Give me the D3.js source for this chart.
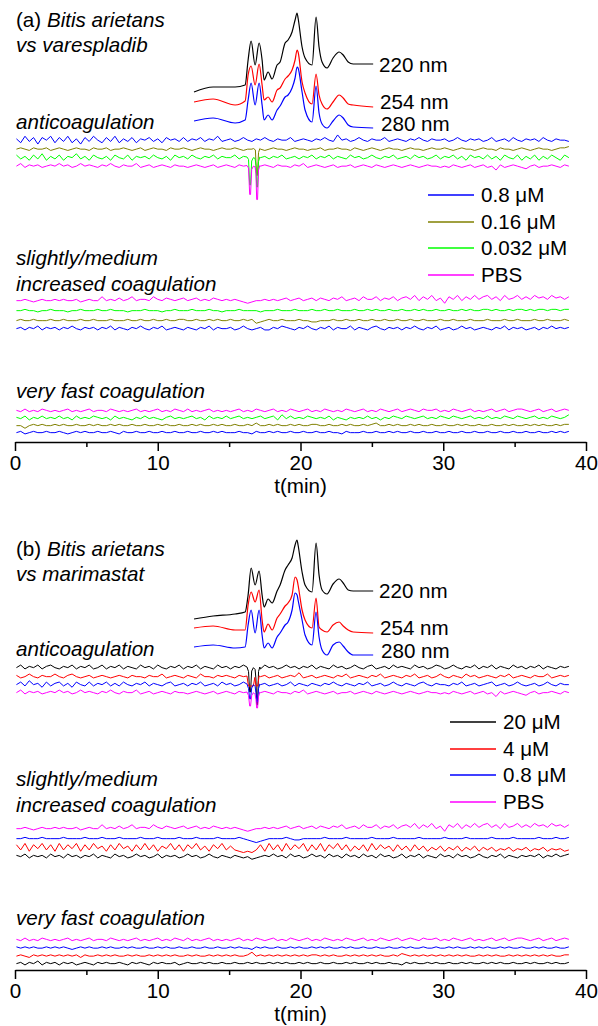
<!DOCTYPE html>
<html>
<head>
<meta charset="utf-8">
<script src="https://cdn.jsdelivr.net/npm/d3@7"></script>
<style>
  body { margin: 0; background: #fff; }
  text { font-family: "Liberation Sans", Arial, sans-serif; font-size: 20.6px; fill: #000; }
</style>
</head>
<body>
<svg id="chart" width="598" height="1026"></svg>
<script>
// ---- chromatogram (UV) traces, time in min, absorbance in arbitrary units
const chromT = [12.54, 13.88, 15.42, 16.12, 16.33, 16.54, 16.82, 17.10, 17.31, 17.45, 17.73, 18.01, 18.36, 18.57, 18.92, 19.13, 19.41,
  19.62, 19.76, 19.83, 20.11, 20.32, 20.81, 21.09, 21.30, 21.51, 21.86, 22.28, 22.71, 22.99, 23.34, 23.69, 25.09];
const absA220 = [43, 48, 48, 50, 75, 94, 70, 92, 75, 55, 63, 56, 70, 73, 92, 95, 103, 115, 122, 117, 88, 77, 70, 118, 88, 73, 67, 77, 83, 80, 73, 71, 71];
const absA254 = [33, 36, 30, 34, 60, 69, 50, 71, 50, 35, 38, 33, 45, 47, 56, 59, 65, 75, 85, 83, 53, 42, 31, 61, 40, 31, 26, 33, 40, 37, 31, 30, 28];
const absA280 = [14, 17, 12, 15, 35, 52, 30, 52, 30, 15, 20, 15, 25, 29, 38, 40, 47, 57, 68, 67, 43, 25, 13, 49, 22, 11, 7, 14, 20, 17, 10, 8, 7];
const absB220 = [41, 44, 46, 48, 65, 92, 75, 89, 65, 53, 61, 57, 69, 75, 90, 95, 102, 115, 120, 115, 88, 75, 68, 117, 85, 70, 66, 76, 81, 77, 70, 69, 69];
const absB254 = [32, 34, 30, 30, 55, 68, 58, 70, 40, 28, 36, 30, 42, 46, 54, 57, 65, 83, 80, 75, 50, 40, 32, 62, 33, 30, 28, 35, 38, 34, 30, 28, 27];
const absB280 = [13, 15, 12, 13, 35, 50, 27, 50, 25, 12, 17, 12, 23, 27, 35, 38, 50, 67, 65, 60, 40, 25, 15, 48, 23, 10, 5, 15, 18, 14, 8, 5, 5];
const wavelengths = ["220 nm", "254 nm", "280 nm"];

// ---- bioassay traces: sampled every 0.3 min from 0.1 min
const tStart = 0.1, tStep = 0.3;

// PBS (same in both panels)
const pbsAnti = [4,6,3,5,4,5,3,4,5,4, 6,4,5,3,4,6,4,5,4,3, 5,4,6,4,3,5,4,4,6,3, 4,5,3,4,5,4,3,5,4,4, 3,4,5,4,3,4,5,3,4,5,
  4,3,5,4,4,6,3,4,5,4, 3,5,4,4,3,5,4,6,3,4, 5,4,3,4,5,3,4,4,5,3, 4,5,4,3,5,4,3,4,5,4, 3,4,5,4,3,4,5,4,4,3,
  4,3,5,4,3,4,5,3,4,5, 3,4,1,5,3,4,5,4,3,2, 4,5,3,4,4,5,4,3,5,4];
const pbsSlight = [4,4,5,4,3,4,5,4,4,5, 4,5,4,4,5,3,4,5,4,4, 7,4,5,4,6,4,5,7,4,5, 5,4,7,5,4,6,5,4,5,6, 4,5,6,4,5,4,6,5,4,5,
  4,5,4,3,2,3,4,4,5,4, 5,4,5,6,4,5,6,4,5,6, 4,6,5,4,6,5,7,4,5,6, 4,7,5,5,7,4,6,5,7,4, 6,7,5,8,4,7,5,8,4,6,
  2,7,5,8,4,7,5,8,5,7, 8,5,7,4,8,5,6,8,5,7, 5,8,6,7,5,8,6,7,5,7];
const pbsFast = [5,4,6,4,5,4,6,5,4,5, 4,5,6,4,5,4,5,6,4,5, 5,4,6,5,4,5,4,5,6,4, 5,4,5,6,4,5,4,6,5,4, 6,4,5,4,5,6,4,5,4,5,
  4,5,6,4,5,4,6,5,4,5, 6,4,5,4,6,5,4,5,6,4, 5,4,6,5,4,5,4,6,5,4, 5,6,4,5,4,6,5,4,5,6, 4,5,6,5,4,6,5,5,6,4,
  5,4,6,5,4,5,6,4,5,4, 5,6,4,5,6,4,5,6,6,5, 4,5,6,4,5,6,4,5,6,5];

// (a) varespladib
const aAnti08 = [5,2,7,3,6,1,6,4,7,2, 6,3,7,2,5,1,6,3,7,4, 2,6,3,7,2,5,3,6,2,5, 4,6,3,5,2,6,4,5,3,6, 3,5,4,6,3,5,4,7,3,4,
  5,3,4,6,4,3,5,4,6,4, 3,5,4,4,6,3,4,5,4,3, 5,4,6,4,3,8,4,5,3,4, 6,4,3,5,4,4,6,3,4,5, 4,3,5,4,6,4,3,5,4,4,
  5,3,4,6,4,3,5,4,5,3, 4,6,3,4,5,3,6,4,3,5, 4,5,3,6,4,3,5,4,4,3];
const aAnti016 = [4,5,4,3,5,4,4,5,3,4, 5,4,3,4,5,4,4,3,5,4, 4,5,3,4,4,5,4,3,4,5, 3,4,5,4,4,3,5,4,4,5, 4,3,4,5,4,4,3,4,5,4,
  4,5,4,3,4,4,5,4,3,4, 5,4,4,3,4,5,4,4,3,4, 4,5,3,4,4,5,4,4,3,5, 4,3,4,5,4,3,4,5,4,4, 3,4,5,4,4,3,4,5,4,4,
  5,4,3,4,5,4,4,3,4,5, 4,4,3,5,4,4,3,4,5,4, 3,4,5,4,4,3,4,5,5,6];
const aAnti0032 = [6,3,5,2,6,3,7,2,5,3, 6,2,5,4,7,3,5,2,6,4, 3,5,2,6,4,3,6,2,5,4, 5,3,6,4,3,5,2,6,4,5, 3,6,4,3,5,4,6,3,5,4,
  4,6,3,5,4,3,6,4,5,3, 5,4,6,3,4,5,3,5,4,6, 3,5,4,6,3,5,4,3,6,4, 5,3,4,6,4,3,5,4,6,3, 4,5,3,6,4,5,3,4,6,3,
  5,4,6,3,5,2,6,4,5,3, 6,3,5,2,6,4,3,6,2,5, 3,6,2,5,3,6,4,2,6,4];
const aSlight08 = [4,5,3,5,4,6,3,5,4,5, 3,5,4,6,4,3,5,4,5,3, 5,4,6,3,5,4,3,5,4,6, 4,3,5,4,6,3,4,5,4,3, 5,4,3,5,4,6,3,5,4,4,
  5,3,4,6,4,3,4,5,3,3, 5,4,6,5,4,3,5,4,6,4, 3,5,4,6,3,5,4,4,6,3, 5,4,3,5,6,4,3,5,4,5, 3,5,4,6,4,3,5,4,6,3,
  4,5,3,4,6,4,5,3,4,5, 4,3,5,4,6,3,5,4,5,3, 4,5,3,5,4,6,4,5,4,5];
const aSlight016 = [4,5,4,4,5,4,4,4,5,4, 4,5,4,4,4,5,4,4,5,4, 4,4,5,4,4,4,5,4,4,5, 4,4,5,4,4,5,4,4,5,5, 4,4,5,4,4,5,4,5,4,4,
  5,4,4,5,4,5,2,3,4,5, 4,4,5,4,4,4,5,4,4,3, 3,4,4,4,5,4,4,5,4,4, 5,4,4,5,4,4,5,4,4,5, 4,4,5,4,4,5,4,4,4,5,
  4,4,5,4,4,4,5,4,4,4, 5,4,4,4,5,4,4,5,4,4, 4,5,4,4,5,4,4,4,5,4];
const aSlight0032 = [4,4,5,4,4,3,4,4,5,4, 4,4,3,4,4,5,4,4,4,5, 4,4,5,4,4,4,3,4,4,4, 5,4,4,4,3,4,4,5,4,4, 4,5,4,4,4,5,4,4,3,4,
  4,4,5,4,4,4,4,3,4,4, 4,5,4,4,4,5,4,4,4,5, 4,4,5,4,4,5,4,4,4,5, 4,4,5,4,5,4,4,5,4,4, 5,4,4,5,4,5,4,4,5,4,
  4,5,4,4,5,4,5,4,4,5, 5,4,5,4,4,5,4,5,5,4, 5,4,5,5,4,5,5,4,5,5];
const aFast08 = [4,5,3,4,5,4,4,5,4,4, 5,4,3,4,5,4,5,4,4,5, 4,4,5,4,3,5,4,4,5,4, 4,5,4,4,5,4,4,5,4,4, 5,4,4,5,4,4,5,4,5,4,
  4,4,5,4,4,3,5,4,4,5, 4,5,4,4,5,4,4,5,4,4, 5,4,4,5,4,4,3,5,4,4, 4,5,4,4,5,4,4,5,4,5, 4,4,5,4,4,5,4,4,5,4,
  4,5,4,4,5,4,4,5,4,4, 5,4,4,5,4,4,5,4,4,5, 4,4,5,4,4,5,4,5,4,5];
const aFast016 = [4,4,2,4,5,4,5,4,4,5, 4,5,4,4,5,4,4,5,4,5, 4,4,5,4,5,4,4,5,4,4, 5,4,4,5,4,5,4,4,5,4, 4,5,4,5,4,4,5,4,5,4,
  4,5,4,4,5,4,6,4,4,5, 4,5,4,4,5,4,5,4,4,5, 5,4,4,5,4,4,5,4,5,4, 4,5,4,5,6,4,4,5,4,5, 4,4,5,4,5,4,4,5,4,4,
  5,4,4,5,4,5,4,4,5,4, 4,5,4,4,5,4,5,4,4,5, 4,5,4,5,4,4,5,4,5,5];
const aFast0032 = [5,4,6,3,5,4,6,4,5,4, 6,4,5,3,6,4,5,4,6,5, 4,5,3,6,4,5,4,3,5,4, 6,4,5,4,3,5,6,4,5,4, 5,6,4,5,3,6,4,5,4,6,
  4,5,6,4,5,4,5,6,4,5, 6,3,7,4,6,4,5,4,6,5, 4,5,4,6,3,5,4,3,5,4, 5,4,6,4,5,3,5,4,6,5, 4,6,5,4,5,6,4,5,4,6,
  5,4,6,5,4,5,6,4,5,4, 6,4,5,4,6,5,4,6,5,4, 5,6,4,5,4,6,5,4,5,7];

// (b) marimastat
const bAnti20 = [4,6,3,5,4,6,3,5,6,4, 3,5,4,6,3,5,4,6,3,4, 6,3,5,4,6,3,5,4,3,6, 4,5,3,6,4,3,5,4,6,3, 5,4,6,3,5,4,3,6,4,5,
  3,5,4,6,3,4,5,3,6,4, 5,3,4,6,4,5,3,5,4,6, 3,5,4,3,6,4,5,3,4,6, 4,3,5,6,3,4,5,3,6,4, 5,4,3,6,4,5,3,4,6,5,
  3,4,6,4,3,5,4,6,3,5, 4,6,3,5,4,3,6,4,5,3, 5,4,6,3,5,4,3,5,4,5];
const bAnti4 = [5,3,4,6,4,3,5,4,4,6, 4,3,5,6,4,3,4,5,3,4, 5,4,3,4,5,4,3,5,4,4, 3,5,4,4,6,3,4,5,4,3, 5,4,3,6,4,4,3,5,4,5,
  4,3,5,4,6,3,4,4,5,3, 4,5,3,4,5,4,7,3,4,5, 3,4,5,4,3,5,4,6,3,4, 5,4,3,5,4,6,3,4,5,4, 3,5,4,6,3,4,5,3,4,6,
  4,3,5,4,3,6,4,5,3,4, 5,4,3,5,4,6,3,4,5,4, 3,5,4,4,6,3,4,5,4,5];
const bAnti08 = [4,6,3,7,4,5,2,6,3,5, 6,3,5,2,6,4,3,6,3,5, 4,6,3,5,3,6,4,3,5,4, 6,3,5,4,3,5,6,3,4,5, 3,5,4,6,3,4,5,3,6,4,
  5,3,4,6,4,3,5,4,5,3, 4,5,3,4,6,3,5,4,3,5, 4,3,5,4,6,4,3,5,4,3, 5,4,6,3,4,5,3,4,6,4, 3,5,4,3,5,6,4,3,5,4,
  4,3,5,4,6,3,4,5,3,4, 5,6,3,4,5,3,4,6,4,3, 4,5,3,4,6,4,3,5,4,4];
const bSlight20 = [5,4,6,3,5,4,5,3,6,4, 5,3,6,4,5,3,5,4,6,3, 5,4,3,6,4,5,3,4,6,4, 5,3,4,6,3,5,4,5,3,4, 6,4,5,3,4,6,4,3,5,4,
  3,5,4,3,4,2,3,4,5,4, 6,4,5,3,6,4,5,3,4,6, 4,5,3,6,4,5,3,6,4,5, 3,6,4,5,3,6,4,5,3,4, 6,3,5,4,6,3,5,4,3,6,
  4,5,3,6,4,5,3,4,6,4, 3,5,4,6,3,5,4,3,5,4, 5,4,6,3,5,4,6,4,5,6];
const bSlight4 = [7,3,8,2,7,4,8,3,7,2, 8,3,7,4,8,2,7,3,8,4, 6,2,7,3,8,4,6,2,7,3, 8,3,7,2,6,4,8,3,7,2, 7,4,8,3,6,2,7,4,8,3,
  6,3,2,1,2,1,3,7,2,8, 3,7,2,8,3,7,4,8,2,7, 3,8,2,7,4,8,3,7,2,6, 3,7,2,8,3,7,4,6,2,7, 3,6,2,7,3,6,2,5,3,6,
  2,5,3,6,2,5,3,6,2,5, 3,5,2,4,3,5,2,4,3,5, 2,4,3,5,2,4,3,4,2,3];
const bSlight08 = [4,4,5,4,4,4,5,4,4,4, 4,5,4,4,4,4,5,4,4,4, 5,4,4,4,5,4,4,4,4,5, 4,4,4,5,4,4,4,4,5,4, 4,4,5,4,4,4,4,5,4,4,
  4,4,5,4,3,2,1,2,3,4, 4,4,4,5,4,3,3,4,4,4, 4,4,5,4,4,4,4,5,4,4, 4,4,4,5,4,4,4,4,5,4, 4,4,4,4,5,4,4,4,4,4,
  5,4,4,4,4,5,4,4,4,4, 4,5,4,4,4,4,5,4,4,4, 4,4,5,4,4,4,5,4,4,5];
const bFast20 = [4,5,3,5,4,6,3,5,4,5, 3,5,4,5,3,4,5,4,3,5, 4,5,4,4,5,4,3,5,4,5, 4,3,5,4,5,4,4,5,3,4, 5,4,4,5,4,5,4,4,5,4,
  4,5,4,4,5,4,5,4,4,5, 4,5,4,5,4,4,5,4,5,4, 4,5,4,4,5,4,4,5,4,5, 4,4,5,4,5,4,4,5,4,4, 3,5,4,5,4,4,5,4,5,4,
  4,5,4,4,5,4,5,4,4,5, 4,5,4,5,4,4,5,4,4,5, 4,5,4,4,5,4,5,4,4,5];
const bFast4 = [4,5,4,3,5,4,5,4,5,4, 5,4,5,4,5,3,5,4,4,5, 4,5,4,5,4,4,5,4,5,4, 4,5,4,5,4,5,4,5,4,4, 5,4,5,4,4,5,4,5,4,5,
  4,5,4,4,5,7,4,5,4,5, 4,5,4,5,4,5,4,5,4,5, 5,4,5,4,5,4,4,5,4,5, 4,5,4,5,4,5,4,4,5,4, 6,5,4,5,4,5,4,5,4,5,
  4,5,4,5,4,5,4,4,5,4, 5,4,5,4,4,5,4,5,4,5, 4,5,4,5,4,5,4,4,5,5];
const bFast08 = [5,4,5,4,5,4,4,5,4,5, 4,5,4,3,4,5,4,5,4,4, 5,4,5,4,4,5,4,5,4,4, 5,4,4,5,4,5,4,4,5,4, 4,5,4,4,5,4,4,5,4,4,
  5,4,5,4,4,3,5,4,5,4, 4,5,4,4,5,4,5,4,4,5, 4,5,4,5,4,4,5,4,5,4, 4,5,4,4,5,4,4,5,4,4, 5,4,5,4,4,5,4,4,5,4,
  4,5,4,5,4,4,5,4,5,4, 5,4,4,5,4,5,4,4,5,4, 4,5,4,5,4,4,5,4,4,5];

// anticoagulant dips (time, response)
const dipPbsA = [[16.25, 4.5], [16.36, 2.6], [16.44, -17.8], [16.50, -17.8], [16.58, 1.4], [16.70, 4], [16.82, 3.4], [16.88, -2], [16.93, -21.7], [16.99, -21.7], [17.06, 1], [17.15, 4.5]];
const dipA0032 = [[16.25, 4.5], [16.36, 2.6], [16.44, -17], [16.50, -17], [16.58, 1.4], [16.70, 4], [16.82, 3.4], [16.88, -2], [16.93, -18.6], [16.99, -18.6], [17.06, 1], [17.15, 4.5]];
const dipA016 = [[16.7, 4.5], [16.84, 3.4], [16.92, -16.3], [16.98, -16.3], [17.06, 1.4], [17.15, 4.5]];
const dipB20 = [[16.25, 4.5], [16.36, 1], [16.44, -14.7], [16.50, -14.7], [16.58, 1.4], [16.70, 4], [16.82, 2.6], [16.88, -4.7], [16.93, -24.7], [16.99, -24.7], [17.06, 1], [17.15, 4.5]];
const dipB4 = [[16.25, 4.5], [16.35, -3.2], [16.7, -3.2], [16.8, 3.4], [16.88, -3.2], [17.0, -3.2], [17.1, 4.5]];
const dipB08 = [[16.25, 4.5], [16.36, 1], [16.44, -7], [16.50, -7], [16.58, 1.4], [16.70, 4], [16.82, 2.6], [16.88, -2], [16.93, -9.3], [16.99, -9.3], [17.06, 1], [17.15, 4.5]];
const dipPbsB = [[16.25, 4.5], [16.36, 1.8], [16.44, -6.3], [16.50, -6.3], [16.58, 1.8], [16.70, 4], [16.82, 2.6], [16.88, -1.2], [16.93, -7.8], [16.99, -7.8], [17.06, 1], [17.15, 4.5]];

const xTicks = [0, 10, 20, 30, 40];
const xMinorTicks = [5, 15, 25, 35];

const colors = { blue: "#0000ff", olive: "#808000", green: "#00ff00", magenta: "#ff00ff", red: "#ff0000", black: "#000000" };

// panel layout (trace offsets in px above the section base)
const panels = [
  {
    title: ["(a) ", "Bitis arietans", "vs varespladib"], titleY: 27,
    chrom: [absA220, absA254, absA280], chromBase: 135, labelY: [72, 109, 131],
    legend: { x: 428, y: 195, labels: ["0.8 \u03bcM", "0.16 \u03bcM", "0.032 \u03bcM", "PBS"], colors: [colors.blue, colors.olive, colors.green, colors.magenta] },
    sections: [
      { label: ["anticoagulation"], labelY: 129, base: 165.5, traces: [
        { v: aAnti08, off: 26, c: colors.blue }, { v: aAnti016, off: 17, c: colors.olive, dip: dipA016 },
        { v: aAnti0032, off: 8.5, c: colors.green, dip: dipA0032 }, { v: pbsAnti, off: 0, c: colors.magenta, dip: dipPbsA }] },
      { label: ["slightly/medium", "increased coagulation"], labelY: 265, base: 328, traces: [
        { v: pbsSlight, off: 28, c: colors.magenta }, { v: aSlight0032, off: 18, c: colors.green },
        { v: aSlight016, off: 8, c: colors.olive }, { v: aSlight08, off: 0, c: colors.blue }] },
      { label: ["very fast coagulation"], labelY: 398, base: 432, traces: [
        { v: pbsFast, off: 21, c: colors.magenta }, { v: aFast0032, off: 14, c: colors.green },
        { v: aFast016, off: 7, c: colors.olive }, { v: aFast08, off: 0, c: colors.blue }] }
    ],
    axisY: 442
  },
  {
    title: ["(b) ", "Bitis arietans", "vs marimastat"], titleY: 556,
    chrom: [absB220, absB254, absB280], chromBase: 660, labelY: [598, 635, 658],
    legend: { x: 450, y: 722, labels: ["20 \u03bcM", "4 \u03bcM", "0.8 \u03bcM", "PBS"], colors: [colors.black, colors.red, colors.blue, colors.magenta] },
    sections: [
      { label: ["anticoagulation"], labelY: 656, base: 692, traces: [
        { v: bAnti20, off: 25, c: colors.black, dip: dipB20 }, { v: bAnti4, off: 16, c: colors.red, dip: dipB4 },
        { v: bAnti08, off: 8, c: colors.blue, dip: dipB08 }, { v: pbsAnti, off: 0, c: colors.magenta, dip: dipPbsB }] },
      { label: ["slightly/medium", "increased coagulation"], labelY: 786, base: 856, traces: [
        { v: pbsSlight, off: 28, c: colors.magenta }, { v: bSlight08, off: 18, c: colors.blue },
        { v: bSlight4, off: 8, c: colors.red }, { v: bSlight20, off: 0, c: colors.black }] },
      { label: ["very fast coagulation"], labelY: 925, base: 963, traces: [
        { v: pbsFast, off: 23, c: colors.magenta }, { v: bFast08, off: 15.5, c: colors.blue },
        { v: bFast4, off: 7.5, c: colors.red }, { v: bFast20, off: 0, c: colors.black }] }
    ],
    axisY: 970
  }
];

const svg = d3.select("#chart");
const x = d3.scaleLinear().domain([0, 40]).range([15, 586]);
const chromColors = [colors.black, colors.red, colors.blue];

function tracePoints(vals, dip) {
  let pts = vals.map((v, i) => [tStart + i * tStep, v]);
  if (dip) {
    const t0 = dip[0][0], t1 = dip[dip.length - 1][0];
    pts = pts.filter(p => p[0] < t0 || p[0] > t1).concat(dip);
    pts.sort((a, b) => a[0] - b[0]);
  }
  return pts;
}

panels.forEach(p => {
  const g = svg.append("g");

  // title
  const t1 = g.append("text").attr("x", 16).attr("y", p.titleY);
  t1.append("tspan").text(p.title[0]);
  t1.append("tspan").style("font-style", "italic").text(p.title[1]);
  g.append("text").attr("x", 16).attr("y", p.titleY + 25).style("font-style", "italic").text(p.title[2]);

  // chromatograms
  const yc = d3.scaleLinear().domain([0, 135]).range([p.chromBase, p.chromBase - 135]);
  const chromLine = d3.line().x(d => x(d[0])).y(d => yc(d[1])).curve(d3.curveMonotoneX);
  p.chrom.forEach((vals, k) => {
    g.append("path")
      .datum(chromT.map((t, i) => [t, vals[i]]))
      .attr("d", chromLine)
      .attr("fill", "none")
      .attr("stroke", chromColors[k])
      .attr("stroke-width", 1.2);
    g.append("text").attr("x", 379 + k).attr("y", p.labelY[k]).text(wavelengths[k]);
  });

  // bioassay sections
  p.sections.forEach(s => {
    s.label.forEach((l, i) => {
      g.append("text").attr("x", 16).attr("y", s.labelY + i * 26).style("font-style", "italic").text(l);
    });
    // response units -> px (4.5 = trace baseline), offsets are in px
    const ys = d3.scaleLinear().domain([4.5, 14.5]).range([s.base, s.base - 13]);
    s.traces.forEach(tr => {
      const line = d3.line().x(d => x(d[0])).y(d => ys(d[1]) - tr.off);
      g.append("path")
        .datum(tracePoints(tr.v, tr.dip))
        .attr("d", line)
        .attr("fill", "none")
        .attr("stroke", tr.c)
        .attr("stroke-width", 1);
    });
  });

  // legend
  p.legend.labels.forEach((l, i) => {
    const ly = Math.round(p.legend.y + i * 26.5);
    g.append("line").attr("x1", p.legend.x).attr("x2", p.legend.x + 46)
      .attr("y1", ly).attr("y2", ly).attr("stroke", p.legend.colors[i]).attr("stroke-width", 1.4);
    g.append("text").attr("x", p.legend.x + 53).attr("y", ly + 7).text(l);
  });

  // x axis
  const ax = g.append("g").attr("transform", "translate(0," + p.axisY + ")")
    .call(d3.axisBottom(x).tickValues(xTicks).tickSize(9).tickSizeOuter(0).tickPadding(4));
  ax.attr("font-size", null).attr("font-family", null);
  ax.selectAll("line, path").attr("stroke-width", 1.5);
  const axm = g.append("g").attr("transform", "translate(0," + p.axisY + ")")
    .call(d3.axisBottom(x).tickValues(xMinorTicks).tickSize(5).tickSizeOuter(0).tickFormat(""));
  axm.select(".domain").remove();
  axm.selectAll("line").attr("stroke-width", 1.5);
  g.append("text").attr("x", x(20)).attr("y", p.axisY + 51).attr("text-anchor", "middle").text("t(min)");
});
</script>
</body>
</html>
